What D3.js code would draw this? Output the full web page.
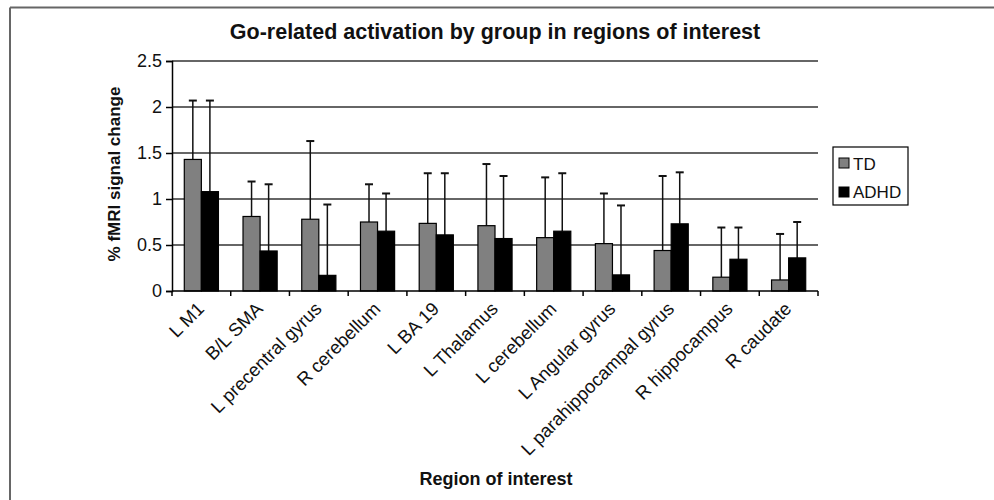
<!DOCTYPE html>
<html>
<head>
<meta charset="utf-8">
<script src="https://cdn.jsdelivr.net/npm/d3@7"></script>
<style>
  body { margin: 0; background: #fff; }
  svg text { font-family: Arial, "Liberation Sans", sans-serif; fill: #111; }
</style>
</head>
<body>
<div id="chart"></div>
<script>
// chart data
const regions = ["L M1", "B/L SMA", "L precentral gyrus", "R cerebellum", "L BA 19", "L Thalamus",
  "L cerebellum", "L Angular gyrus", "L parahippocampal gyrus", "R hippocampus", "R caudate"];
const tdMean = [1.43, 0.81, 0.78, 0.75, 0.735, 0.71, 0.58, 0.515, 0.44, 0.15, 0.12];
const tdUpper = [2.07, 1.19, 1.63, 1.16, 1.28, 1.38, 1.235, 1.06, 1.25, 0.69, 0.62];
const adhdMean = [1.08, 0.435, 0.17, 0.65, 0.61, 0.57, 0.65, 0.175, 0.73, 0.345, 0.36];
const adhdUpper = [2.07, 1.16, 0.94, 1.06, 1.28, 1.25, 1.28, 0.93, 1.29, 0.69, 0.75];
const yTicks = [0, 0.5, 1, 1.5, 2, 2.5];
const groups = ["TD", "ADHD"];
const groupColors = { TD: "#808080", ADHD: "#000000" };

const width = 994;
const height = 500;
const plot = { left: 172, right: 818, top: 61, bottom: 291 };

const svg = d3.select("#chart").append("svg")
  .attr("width", width)
  .attr("height", height);

// frame lines (top and left only, like the scanned figure)
svg.append("line").attr("x1", 10).attr("x2", width).attr("y1", 7.5).attr("y2", 7.5)
  .attr("stroke", "#666").attr("stroke-width", 2);
svg.append("line").attr("x1", 10).attr("x2", 10).attr("y1", 7.5).attr("y2", height)
  .attr("stroke", "#666").attr("stroke-width", 2);

const x = d3.scaleBand()
  .domain(regions)
  .range([plot.left, plot.right]);

const x1 = d3.scaleBand()
  .domain(groups)
  .range([0, x.bandwidth()])
  .paddingInner(0)
  .paddingOuter(0.72);

const y = d3.scaleLinear()
  .domain([0, 2.5])
  .range([plot.bottom, plot.top]);

// horizontal grid lines
svg.append("g")
  .selectAll("line")
  .data(yTicks.filter(d => d > 0))
  .join("line")
  .attr("x1", plot.left)
  .attr("x2", plot.right)
  .attr("y1", d => y(d))
  .attr("y2", d => y(d))
  .attr("stroke", "#333")
  .attr("stroke-width", 1.6);

const rows = regions.map((r, i) => ({
  region: r,
  TD: tdMean[i], TDup: tdUpper[i],
  ADHD: adhdMean[i], ADHDup: adhdUpper[i]
}));

// error bars (upper only), drawn behind the bars
groups.forEach(g => {
  const eb = svg.append("g").attr("stroke", "#111").attr("stroke-width", 1.5);
  rows.forEach(d => {
    const cx = x(d.region) + x1(g) + x1.bandwidth() / 2;
    eb.append("line")
      .attr("x1", cx).attr("x2", cx)
      .attr("y1", y(d[g])).attr("y2", y(d[g + "up"]));
    eb.append("line")
      .attr("x1", cx - 4).attr("x2", cx + 4)
      .attr("y1", y(d[g + "up"])).attr("y2", y(d[g + "up"]))
      .attr("stroke-width", 2);
  });
});

// bars
groups.forEach(g => {
  svg.append("g")
    .selectAll("rect")
    .data(rows)
    .join("rect")
    .attr("x", d => x(d.region) + x1(g))
    .attr("y", d => y(d[g]))
    .attr("width", x1.bandwidth())
    .attr("height", d => y(0) - y(d[g]))
    .attr("fill", groupColors[g])
    .attr("stroke", "#000")
    .attr("stroke-width", 1.2);
});

// y axis
const yAxis = svg.append("g")
  .attr("transform", `translate(${plot.left},0)`)
  .call(d3.axisLeft(y).tickValues(yTicks).tickSize(6).tickFormat(d3.format("")));
yAxis.select(".domain").attr("stroke", "#000").attr("stroke-width", 1.5);
yAxis.selectAll(".tick line").attr("stroke", "#000").attr("stroke-width", 1.5);
yAxis.selectAll("text").style("font-size", "18px").attr("x", -10);

// x axis: ticks between categories
const xAxis = svg.append("g")
  .attr("transform", `translate(0,${plot.bottom})`);
xAxis.append("line")
  .attr("x1", plot.left).attr("x2", plot.right)
  .attr("stroke", "#000").attr("stroke-width", 1.5);
xAxis.selectAll(".sep")
  .data(regions.concat(["end"]))
  .join("line")
  .attr("class", "sep")
  .attr("x1", (d, i) => plot.left + i * x.step())
  .attr("x2", (d, i) => plot.left + i * x.step())
  .attr("y1", 0).attr("y2", 5)
  .attr("stroke", "#000").attr("stroke-width", 1.5);
xAxis.selectAll(".lbl")
  .data(regions)
  .join("text")
  .attr("class", "lbl")
  .attr("text-anchor", "end")
  .attr("transform", d => `translate(${x(d) + x.bandwidth() / 2 + 4},${19}) rotate(-45)`)
  .style("font-size", "18.5px")
  .text(d => d);

// titles
svg.append("text")
  .attr("x", 495).attr("y", 39)
  .attr("text-anchor", "middle")
  .style("font-size", "21.5px").style("font-weight", "bold")
  .text("Go-related activation by group in regions of interest");

svg.append("text")
  .attr("transform", `translate(120,${(plot.top + plot.bottom) / 2 - 2}) rotate(-90)`)
  .attr("text-anchor", "middle")
  .style("font-size", "17px").style("font-weight", "bold")
  .text("% fMRI signal change");

svg.append("text")
  .attr("x", 496).attr("y", 485)
  .attr("text-anchor", "middle")
  .style("font-size", "18px").style("font-weight", "bold")
  .text("Region of interest");

// legend
const legend = svg.append("g").attr("transform", "translate(833,147)");
legend.append("rect")
  .attr("width", 75).attr("height", 58)
  .attr("fill", "#fff").attr("stroke", "#000").attr("stroke-width", 1.2);
groups.forEach((g, i) => {
  legend.append("rect")
    .attr("x", 6).attr("y", 11 + i * 29)
    .attr("width", 10).attr("height", 10)
    .attr("fill", groupColors[g]).attr("stroke", "#000");
  legend.append("text")
    .attr("x", 20).attr("y", 23 + i * 28)
    .style("font-size", "17px")
    .text(g);
});
</script>
</body>
</html>
